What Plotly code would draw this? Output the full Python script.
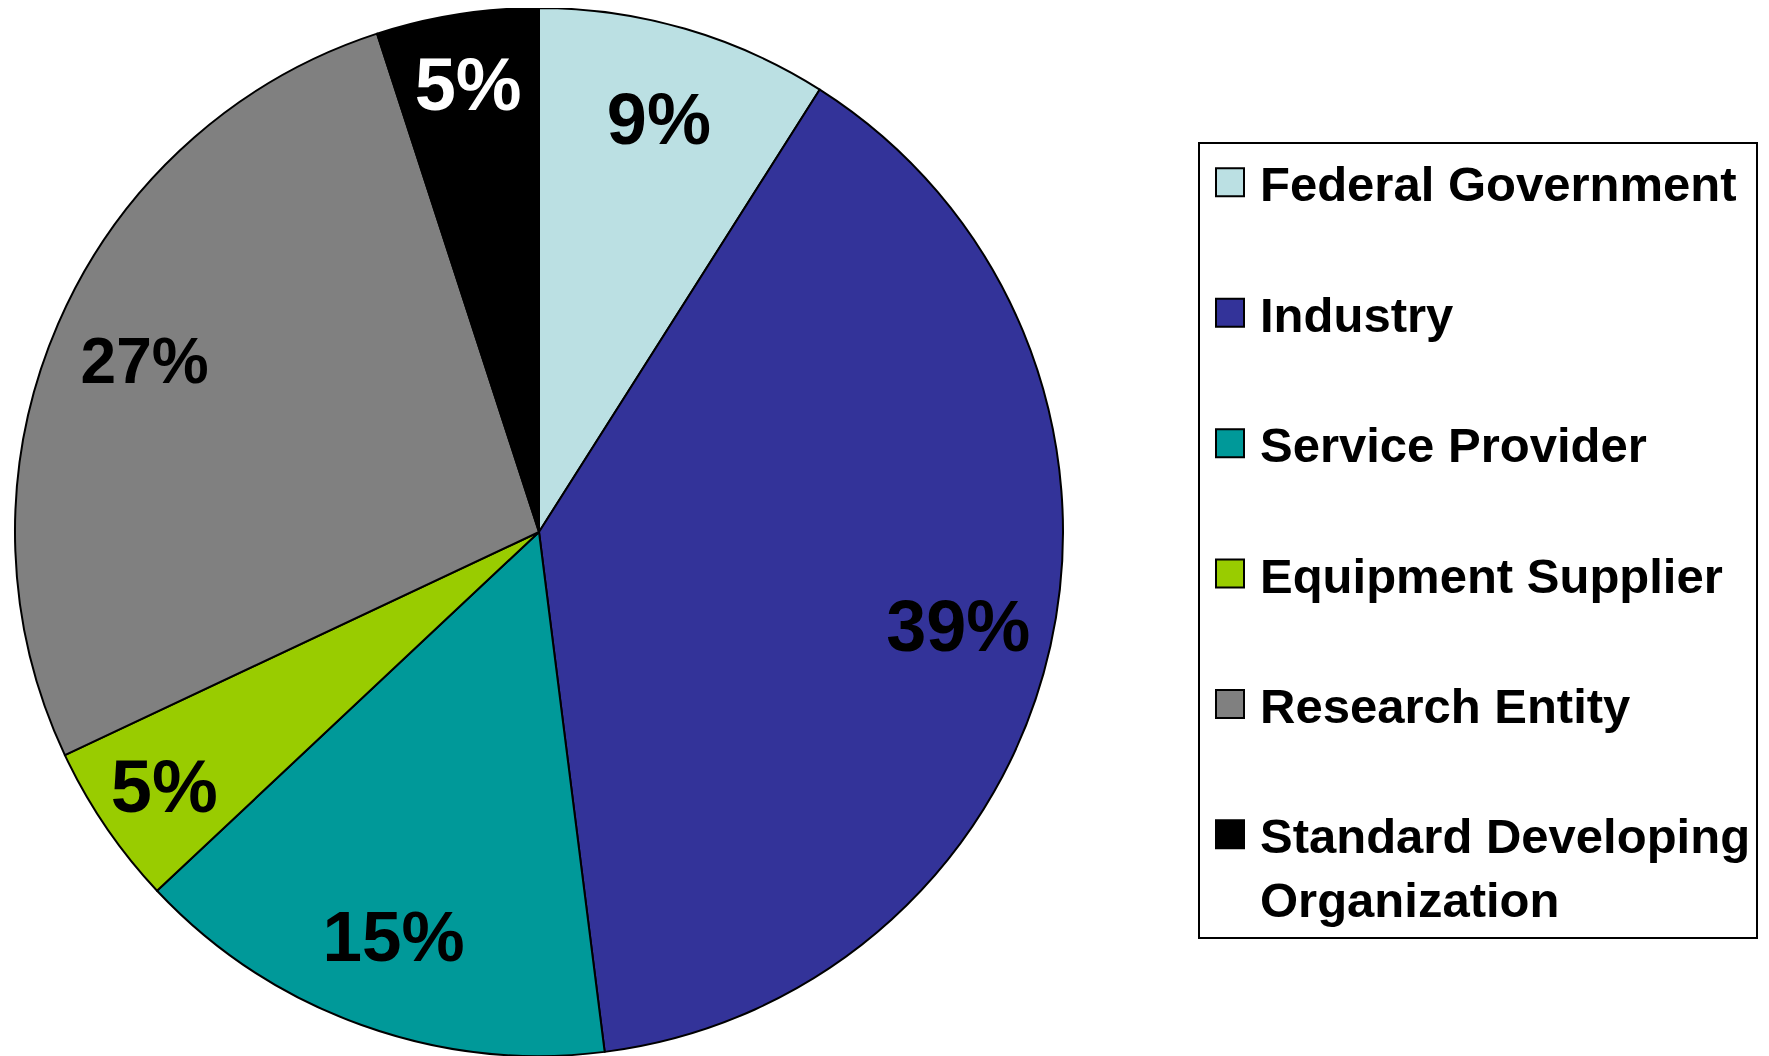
import plotly.graph_objects as go

categories = ["Federal Government", "Industry", "Service Provider",
              "Equipment Supplier", "Research Entity", "Standard Developing Organization"]
values = [9, 39, 15, 5, 27, 5]
colors = ["#BBE0E3", "#333399", "#009999", "#99CC00", "#808080", "#000000"]
text_colors = ["#000000", "#000000", "#000000", "#000000", "#000000", "#FFFFFF"]
text_sizes = [72, 72, 71, 74, 64, 74]

# legend labels: extra blank line for spacing, wrap the long one
legend_labels = []
for c in categories:
    if c == "Standard Developing Organization":
        legend_labels.append("Standard Developing<br>Organization")
    else:
        legend_labels.append(c + "<br>&nbsp;")

OFF = 8  # page body margin
W, H = 1769 - OFF, 1056 - OFF
cx, cy, r = 531, 524, 524
dom = dict(x=[max(0, (cx - r) / W), min(1, (cx + r) / W)],
           y=[max(0, (H - cy - r) / H), min(1, (H - cy + r) / H)])

fig = go.Figure()
# base pie: slices + legend
fig.add_trace(go.Pie(
    labels=legend_labels,
    values=values,
    sort=False,
    direction="clockwise",
    rotation=0,
    marker=dict(colors=colors, line=dict(color="#000000", width=2)),
    textinfo="none",
    hoverinfo="label+percent",
    domain=dom,
))
# transparent ring overlay to carry the percentage labels at outer radius
fig.add_trace(go.Pie(
    labels=legend_labels,
    values=values,
    sort=False,
    direction="clockwise",
    rotation=0,
    hole=0.64,
    marker=dict(colors=["rgba(0,0,0,0)"] * len(values), line=dict(width=0)),
    texttemplate="%{percent:.0%}",
    textposition="inside",
    insidetextorientation="horizontal",
    textfont=dict(family="Liberation Sans, Arial", size=text_sizes, color=text_colors, weight="bold"),
    hoverinfo="skip",
    showlegend=False,
    domain=dom,
))

fig.update_layout(
    width=W, height=H,
    margin=dict(l=0, r=0, t=0, b=0),
    paper_bgcolor="white",
    plot_bgcolor="white",
    showlegend=True,
    legend=dict(
        x=(1198 - OFF) / W, xanchor="left",
        y=1 - (142 - OFF) / H, yanchor="top",
        bordercolor="#000000", borderwidth=2,
        bgcolor="white",
        font=dict(family="Liberation Sans, Arial", size=49, color="#000000", weight="bold"),
        valign="top",
        itemwidth=50,
        traceorder="normal",
    ),
)

post = """
function bigSymbols(){
  document.querySelectorAll('.legendpie').forEach(function(p){
    p.setAttribute('d','M14,14H-14V-14H14Z');
  });
}
bigSymbols();
var gd = document.getElementById('{plot_id}');
gd.on('plotly_afterplot', bigSymbols);
"""

fig.write_html("out.html", post_script=post)
